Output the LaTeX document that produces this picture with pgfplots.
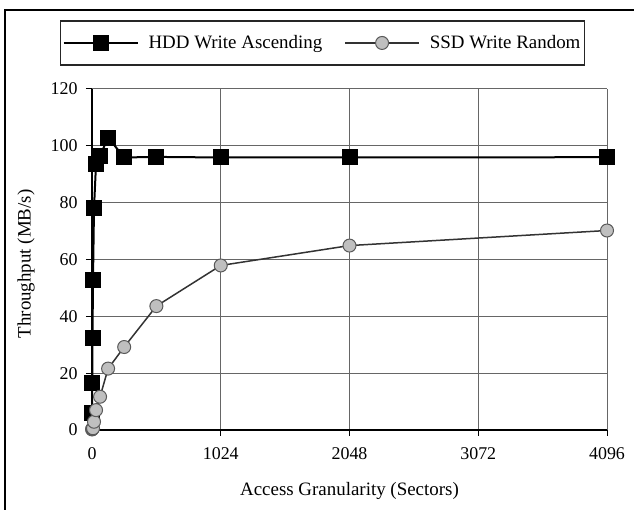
\documentclass[border=0pt]{standalone}
\usepackage{fontspec}
\setmainfont{Liberation Serif}
\usepackage{pgfplots}
\pgfplotsset{compat=1.18}
\begin{document}
\fontsize{19}{21}\selectfont
\begin{tikzpicture}[x=1bp,y=1bp]
\useasboundingbox (-92,-80) rectangle (542,430);
\begin{scope}
\clip (-92,-80) rectangle (542,430);
\draw[line width=1.6bp] (-87,-95) -- (-87,420) -- (560,420);
\end{scope}
\begin{axis}[
  at={(0,0)}, anchor=origin,
  scale only axis, width=515bp, height=341bp,
  xmin=0, xmax=4096, ymin=0, ymax=120,
  xtick={0,1024,2048,3072,4096},
  ytick={0,20,40,60,80,100,120},
  axis lines=left,
  axis line style={-, line width=1.5bp},
  grid=major,
  major grid style={black!60, line width=1bp},
  tick align=outside,
  major tick length=6bp,
  tick style={black, line width=1bp},
  /pgf/number format/assume math mode=true,
  scaled x ticks=false,
  xticklabel style={/pgf/number format/1000 sep={}, yshift=-5bp},
  yticklabel style={xshift=-2bp},
  tick label style={font=\fontsize{18}{20}\selectfont},
  xlabel={Access Granularity (Sectors)},
  ylabel={Throughput (MB/s)},
  x label style={at={(axis description cs:0.5,-0.179)}, anchor=center},
  y label style={at={(axis description cs:-0.128,0.487)}, anchor=center},
  label style={font=\fontsize{19}{21}\selectfont},
  legend columns=2,
  legend style={at={(axis description cs:0.4476,1.135)}, anchor=center, draw=black!85, line width=1.2bp,
    font=\fontsize{19}{21}\selectfont, inner xsep=2bp, inner ysep=12bp,
    /tikz/every even column/.append style={column sep=20bp}},
  legend image code/.code={\draw[mark repeat=2,mark phase=2,#1] plot coordinates {(0bp,0bp) (37bp,0bp) (74bp,0bp)};},
  clip=false,
]
\addplot[black, line width=2bp, mark=square*, mark size=7.5bp, mark options={fill=black, solid, line width=1bp}]
coordinates {(1,5.9) (2,16.4) (4,32.5) (8,52.9) (16,78.1) (32,93.6) (64,96.5) (128,102.9) (256,95.9) (512,96.1) (1024,95.9) (2048,95.9) (4096,96)};
\addlegendentry{\hspace{8bp}HDD Write Ascending}
\addplot[black!80, line width=1.5bp, mark=*, mark size=6.5bp, mark options={fill=black!25, draw=black!65, line width=1bp, solid}]
coordinates {(1,0.2) (2,0.3) (4,0.5) (8,0.6) (16,2.9) (32,7.0) (64,11.7) (128,21.6) (256,29.2) (512,43.6) (1024,57.9) (2048,64.9) (4096,70.2)};
\addlegendentry{\hspace{8bp}SSD Write Random\hspace{38bp}}
\end{axis}
\end{tikzpicture}
\end{document}
